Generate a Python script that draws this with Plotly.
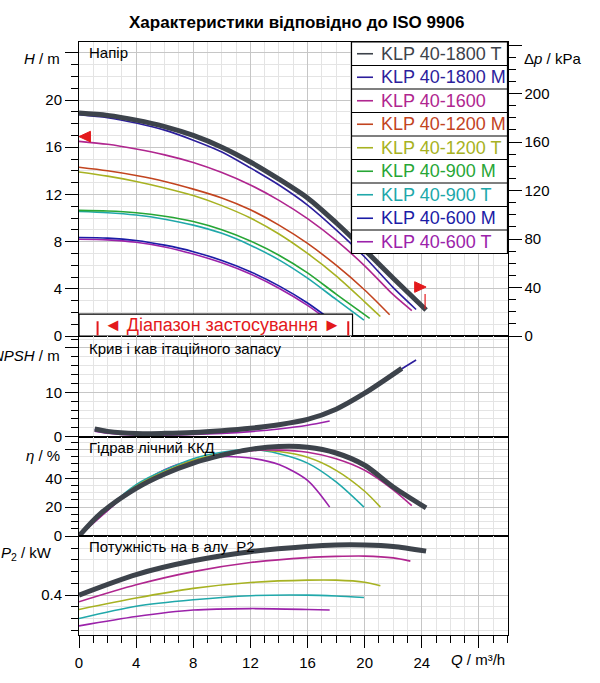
import plotly.graph_objects as go

W, HPX = 600, 683
FONT = "Liberation Sans, Arial, sans-serif"
GRID_MAJ = "#c6c6c6"
GRID_MIN = "#e4e4e4"
RED = "#e3191c"

## Models and colours
MODELS = ["KLP 40-1800 T", "KLP 40-1800 M", "KLP 40-1600", "KLP 40-1200 M", "KLP 40-1200 T",
          "KLP 40-900 M", "KLP 40-900 T", "KLP 40-600 M", "KLP 40-600 T"]
COLORS = ["#3d434b", "#2c1e9c", "#b0268f", "#c2441f", "#a7b222",
          "#27a636", "#20a8aa", "#1b1ca6", "#9b22aa"]
CLR = dict(zip(MODELS, COLORS))

## Head curves, Q [m3/h] -> H [m]
q_h_1800t = [0, 2, 4, 6, 8, 10, 12, 14, 16, 18, 20, 22, 24.3]
h_1800t = [18.9, 18.7, 18.3, 17.75, 17.0, 16.0, 14.75, 13.3, 11.7, 9.6, 7.3, 4.9, 2.2]
q_h_1800m = [0, 2, 4, 6, 8, 10, 12, 14, 16, 18, 20, 22, 23.6]
h_1800m = [18.75, 18.5, 18.05, 17.45, 16.6, 15.6, 14.25, 12.8, 11.1, 9.0, 6.7, 4.1, 2.25]
q_h_1600 = [0, 2, 4, 6, 8, 10, 12, 14, 16, 18, 20, 22, 23.3]
h_1600 = [16.5, 16.25, 15.85, 15.35, 14.7, 13.85, 12.8, 11.5, 9.95, 8.1, 5.95, 3.5, 2.15]
q_h_1200m = [0, 2, 4, 6, 8, 10, 12, 14, 16, 18, 20, 21.75]
h_1200m = [14.3, 14.0, 13.6, 13.1, 12.45, 11.7, 10.7, 9.4, 7.85, 6.0, 3.9, 1.8]
q_h_1200t = [0, 2, 4, 6, 8, 10, 12, 14, 16, 18, 20, 21.1]
h_1200t = [13.9, 13.55, 13.1, 12.55, 11.9, 11.05, 10.0, 8.65, 7.0, 5.1, 2.9, 1.65]
q_h_900m = [0, 2, 4, 6, 8, 10, 12, 14, 16, 18, 20.35]
h_900m = [10.65, 10.6, 10.45, 10.15, 9.7, 9.0, 8.05, 6.85, 5.35, 3.55, 1.5]
q_h_900t = [0, 2, 4, 6, 8, 10, 12, 14, 16, 18, 19.95]
h_900t = [10.55, 10.45, 10.25, 9.9, 9.4, 8.7, 7.7, 6.45, 4.9, 3.1, 1.35]
q_h_600m = [0, 2, 4, 6, 8, 10, 12, 14, 16, 17.6]
h_600m = [8.35, 8.3, 8.1, 7.7, 7.15, 6.4, 5.45, 4.25, 2.8, 1.4]
q_h_600t = [0, 2, 4, 6, 8, 10, 12, 14, 16, 17.6]
h_600t = [8.2, 8.15, 7.95, 7.55, 6.95, 6.2, 5.25, 4.05, 2.6, 1.2]

## NPSH curves [m]
q_n_1800t = [1.1, 2, 4, 6, 8, 10, 12, 14, 16, 18, 20, 22.6]
n_1800t = [1.75, 1.2, 0.7, 0.75, 0.95, 1.35, 1.9, 2.7, 3.9, 6.2, 9.8, 15.4]
q_n_1800m = [1.1, 2, 4, 6, 8, 10, 12, 14, 16, 18, 20, 22, 23.6]
n_1800m = [1.7, 1.15, 0.65, 0.7, 0.9, 1.3, 1.85, 2.65, 3.85, 6.1, 9.8, 14.1, 17.3]
q_n_600t = [1.1, 2, 4, 6, 8, 10, 12, 14, 16, 17.55]
n_600t = [1.25, 0.8, 0.35, 0.35, 0.5, 0.75, 1.15, 1.75, 2.6, 3.55]

## Hydraulic efficiency [%]
q_e_1800t = [0, 1.5, 4, 6, 8, 10, 12, 14, 16, 18, 20, 22, 24.3]
e_1800t = [0, 15.5, 33, 43, 50.5, 56, 60, 62, 61.5, 57.5, 49, 34, 19.5]
q_e_1600 = [0, 4, 8, 12, 14, 16, 18, 20, 22, 23.3]
e_1600 = [0, 33.5, 51, 59, 59.5, 58, 53.5, 45.5, 32, 21]
q_e_1200t = [0, 4, 8, 10, 12, 14, 16, 18, 20, 21.1]
e_1200t = [0, 34.5, 52.5, 57, 59.5, 58.5, 54.5, 45.5, 31, 20]
q_e_900t = [0, 4, 8, 10, 12, 14, 16, 18, 19.95]
e_900t = [0, 35.5, 53.5, 58, 60, 57, 50.5, 37.5, 20]
q_e_600t = [0, 4, 6, 8, 10, 12, 14, 16, 17.55]
e_600t = [0, 34, 46, 52.5, 55, 54, 49.5, 38.5, 20]

## Shaft power P2 [kW]
q_p_1800t = [0, 4, 8, 12, 16, 18, 20, 22, 24.3]
p_1800t = [0.400, 0.470, 0.517, 0.548, 0.566, 0.571, 0.571, 0.566, 0.550]
q_p_1600 = [0, 4, 8, 12, 16, 18, 20, 22, 23.2]
p_1600 = [0.377, 0.435, 0.480, 0.511, 0.528, 0.532, 0.533, 0.527, 0.516]
q_p_1200t = [0, 4, 8, 12, 16, 18, 20, 21.1]
p_1200t = [0.351, 0.390, 0.423, 0.443, 0.451, 0.451, 0.444, 0.432]
q_p_900t = [0, 4, 8, 12, 16, 18, 19.95]
p_900t = [0.320, 0.362, 0.384, 0.398, 0.400, 0.397, 0.392]
q_p_600t = [0, 4, 8, 12, 16, 17.55]
p_600t = [0.295, 0.327, 0.349, 0.354, 0.351, 0.349]

## Operating range marks
H_SHUT = 16.9        # left marker
Q_END, H_END = 24.3, 4.15
Q_RANGE = [1.3, 18.85]


def px(x):
    return x / W


def py(y):
    return 1 - y / HPX


def curve(q, v, model, ax, width=1.6):
    xa, ya = ax
    return go.Scatter(x=q, y=v, mode="lines", xaxis=xa, yaxis=ya, showlegend=False,
                      line=dict(color=CLR[model], width=width, shape="spline", smoothing=0.8),
                      hoverinfo="skip")


fig = go.Figure()
AH, AN, AE, AP = ("x", "y"), ("x2", "y2"), ("x3", "y3"), ("x4", "y4")

for q, v, m in [(q_h_600t, h_600t, "KLP 40-600 T"), (q_h_600m, h_600m, "KLP 40-600 M"),
                (q_h_900t, h_900t, "KLP 40-900 T"), (q_h_900m, h_900m, "KLP 40-900 M"),
                (q_h_1200t, h_1200t, "KLP 40-1200 T"), (q_h_1200m, h_1200m, "KLP 40-1200 M"),
                (q_h_1600, h_1600, "KLP 40-1600"), (q_h_1800m, h_1800m, "KLP 40-1800 M")]:
    fig.add_trace(curve(q, v, m, AH))
fig.add_trace(curve(q_h_1800t, h_1800t, "KLP 40-1800 T", AH, 5))

fig.add_trace(curve(q_n_600t, n_600t, "KLP 40-600 T", AN))
fig.add_trace(curve(q_n_1800m, n_1800m, "KLP 40-1800 M", AN))
fig.add_trace(curve(q_n_1800t, n_1800t, "KLP 40-1800 T", AN, 5))

for q, v, m in [(q_e_600t, e_600t, "KLP 40-600 T"), (q_e_900t, e_900t, "KLP 40-900 T"),
                (q_e_1200t, e_1200t, "KLP 40-1200 T"), (q_e_1600, e_1600, "KLP 40-1600")]:
    fig.add_trace(curve(q, v, m, AE))
fig.add_trace(curve(q_e_1800t, e_1800t, "KLP 40-1800 T", AE, 5))

for q, v, m in [(q_p_600t, p_600t, "KLP 40-600 T"), (q_p_900t, p_900t, "KLP 40-900 T"),
                (q_p_1200t, p_1200t, "KLP 40-1200 T"), (q_p_1600, p_1600, "KLP 40-1600")]:
    fig.add_trace(curve(q, v, m, AP))
fig.add_trace(curve(q_p_1800t, p_1800t, "KLP 40-1800 T", AP, 5))

X_DOM = [px(79), px(507.5)]
X_TICKS = [0, 4, 8, 12, 16, 20, 24, 28]


def xaxis(anchor, bottom=False):
    d = dict(domain=X_DOM, range=[0, 30], anchor=anchor, tickmode="array", tickvals=X_TICKS,
             ticktext=[str(t) for t in X_TICKS[:-1]] + [""], automargin=False,
             showgrid=True, gridcolor=GRID_MAJ, gridwidth=1, zeroline=False,
             showline=True, mirror=True, linecolor="black", linewidth=1,
             minor=dict(dtick=1, tick0=0, showgrid=True, gridcolor=GRID_MIN, gridwidth=1))
    if bottom:
        d.update(ticks="outside", ticklen=12, tickcolor="black", showticklabels=True,
                 ticklabelstandoff=2, tickfont=dict(size=15, color="black", family=FONT))
        d["minor"].update(ticks="outside", ticklen=7, tickcolor="black")
    else:
        d.update(ticks="", showticklabels=False, matches="x4")
    return d


def yaxis(dom, rng, vals, labels, minor_dt, anchor):
    return dict(domain=[py(dom[0]), py(dom[1])], range=rng, anchor=anchor, automargin=False,
                tickmode="array", tickvals=vals, ticktext=labels,
                ticks="outside", ticklen=13, tickcolor="black",
                tickfont=dict(size=15, color="black", family=FONT),
                showgrid=True, gridcolor=GRID_MAJ, gridwidth=1, zeroline=False,
                showline=True, mirror=True, linecolor="black", linewidth=1,
                minor=dict(dtick=minor_dt, tick0=0, ticks="outside", ticklen=7, tickcolor="black",
                           showgrid=True, gridcolor=GRID_MIN, gridwidth=1))


fig.update_layout(
    width=W, height=HPX, autosize=False, margin=dict(l=0, r=0, t=0, b=0, pad=0),
    paper_bgcolor="white", plot_bgcolor="white", showlegend=False,
    font=dict(family=FONT, size=15, color="black"),
    xaxis=xaxis("y"), xaxis2=xaxis("y2"), xaxis3=xaxis("y3"), xaxis4=xaxis("y4", True),
    yaxis=yaxis([336, 42], [0, 24.92], [0, 4, 8, 12, 16, 20, 24],
                ["0", "4", "8", "12", "16", "20", ""], 1, "x"),
    yaxis2=yaxis([436.7, 336], [0, 22.7], [0, 10, 20], ["0", "10", ""], 2, "x2"),
    yaxis3=yaxis([536, 436.7], [0, 68.8], [0, 20, 40, 60], ["0", "20", "40", ""], 5, "x3"),
    yaxis4=yaxis([634.8, 536], [0.2645, 0.6017], [0.4], ["0.4"], 0.04, "x4"),
    yaxis5=dict(overlaying="y", side="right", anchor="x", range=[0, 242.5], automargin=False,
                tickmode="array", tickvals=[0, 40, 80, 120, 160, 200, 240],
                ticktext=["0", "40", "80", "120", "160", "200", ""],
                ticks="outside", ticklen=13, tickcolor="black", showgrid=False, zeroline=False,
                showline=True, linecolor="black", linewidth=1,
                tickfont=dict(size=15, color="black", family=FONT),
                minor=dict(dtick=10, tick0=0, ticks="outside", ticklen=7, tickcolor="black",
                           showgrid=False)),
)
# empty trace so the kPa axis is drawn
fig.add_trace(go.Scatter(x=[None], y=[None], xaxis="x", yaxis="y5", showlegend=False))

shapes = []
ann = []

# legend box
LX0, LX1, LY0, ROW = 351.5, 507.5, 42, 23.5
shapes.append(dict(type="rect", xref="paper", yref="paper", x0=px(LX0), x1=px(LX1),
                   y0=py(LY0), y1=py(LY0 + ROW * len(MODELS)), fillcolor="white",
                   line=dict(color="black", width=1.2), layer="above"))
for i, m in enumerate(MODELS):
    yc = LY0 + ROW * (i + 0.5)
    if i > 0:
        shapes.append(dict(type="line", xref="paper", yref="paper", x0=px(LX0), x1=px(LX1),
                           y0=py(LY0 + ROW * i), y1=py(LY0 + ROW * i),
                           line=dict(color="black", width=1.2), layer="above"))
    shapes.append(dict(type="line", xref="paper", yref="paper", x0=px(357), x1=px(373),
                       y0=py(yc), y1=py(yc), line=dict(color=CLR[m], width=1.6), layer="above"))
    ann.append(dict(text=m, x=px(379), y=py(yc), xref="paper", yref="paper", xanchor="left",
                    yanchor="middle", showarrow=False, font=dict(size=18, color=CLR[m])))

# operating range box
shapes.append(dict(type="rect", xref="x", yref="y", x0=0, x1=19.15, y0=0, y1=1.86,
                   fillcolor="white", line=dict(color="black", width=1.2), layer="above"))
for qr in Q_RANGE:
    shapes.append(dict(type="line", xref="x", yref="y", x0=qr, x1=qr, y0=0.05, y1=1.25,
                       line=dict(color=RED, width=2), layer="above"))
ann.append(dict(text="◄ Діапазон застосування ►", x=sum(Q_RANGE) / 2, y=0.93, xref="x", yref="y",
                xanchor="center", yanchor="middle", showarrow=False, font=dict(size=18, color=RED)))
shapes.append(dict(type="path", xref="x", yref="y", fillcolor=RED, line=dict(color=RED, width=1),
                   path=f"M 0,{H_SHUT} L 0.8,{H_SHUT + 0.45} L 0.8,{H_SHUT - 0.45} Z", layer="above"))
shapes.append(dict(type="path", xref="x", yref="y", fillcolor=RED, line=dict(color=RED, width=1),
                   path=f"M {Q_END},{H_END} L {Q_END - 0.8},{H_END + 0.45} L {Q_END - 0.8},{H_END - 0.45} Z",
                   layer="above"))
shapes.append(dict(type="line", xref="x", yref="y", x0=Q_END - 0.07, x1=Q_END - 0.07, y0=H_END - 0.6,
                   y1=2.3, line=dict(color=RED, width=1.2), layer="above"))

# title, panel labels, axis titles
ann.append(dict(text="<b>Характеристики відповідно до ISO 9906</b>", x=px(296), y=py(23),
                xref="paper", yref="paper", xanchor="center", yanchor="middle",
                showarrow=False, font=dict(size=17)))
for txt, ypx in [("Напір", 52), ("Крив і кав ітаційного запасу", 348),
                 ("Гідрав лічний ККД", 447), ("Потужність на в алу  P2", 546)]:
    ann.append(dict(text=txt, x=px(87), y=py(ypx), xref="paper", yref="paper", xanchor="left",
                    yanchor="middle", showarrow=False, font=dict(size=15)))
for txt, xpx, ypx in [("<i>H</i> / m", 62, 58), ("<i>NPSH</i> / m", 62, 355),
                      ("<i>η</i> / %", 62, 455), ("<i>P</i><sub>2</sub> / kW", 54, 553)]:
    ann.append(dict(text=txt, x=px(xpx), y=py(ypx), xref="paper", yref="paper", xanchor="right",
                    yanchor="middle", showarrow=False, font=dict(size=15)))
ann.append(dict(text="Δ<i>p</i> / kPa", x=px(522), y=py(59), xref="paper", yref="paper",
                xanchor="left", yanchor="middle", showarrow=False, font=dict(size=15)))
ann.append(dict(text="<i>Q</i> / m³/h", x=px(449), y=py(659), xref="paper", yref="paper",
                xanchor="left", yanchor="middle", showarrow=False, font=dict(size=15)))

fig.update_layout(shapes=shapes, annotations=ann)
page_css = ("document.documentElement.style.overflow='hidden';"
            "document.body.style.margin='0';document.body.style.overflow='hidden';")
fig.write_html("out.html", config={"displayModeBar": False}, post_script=page_css)
